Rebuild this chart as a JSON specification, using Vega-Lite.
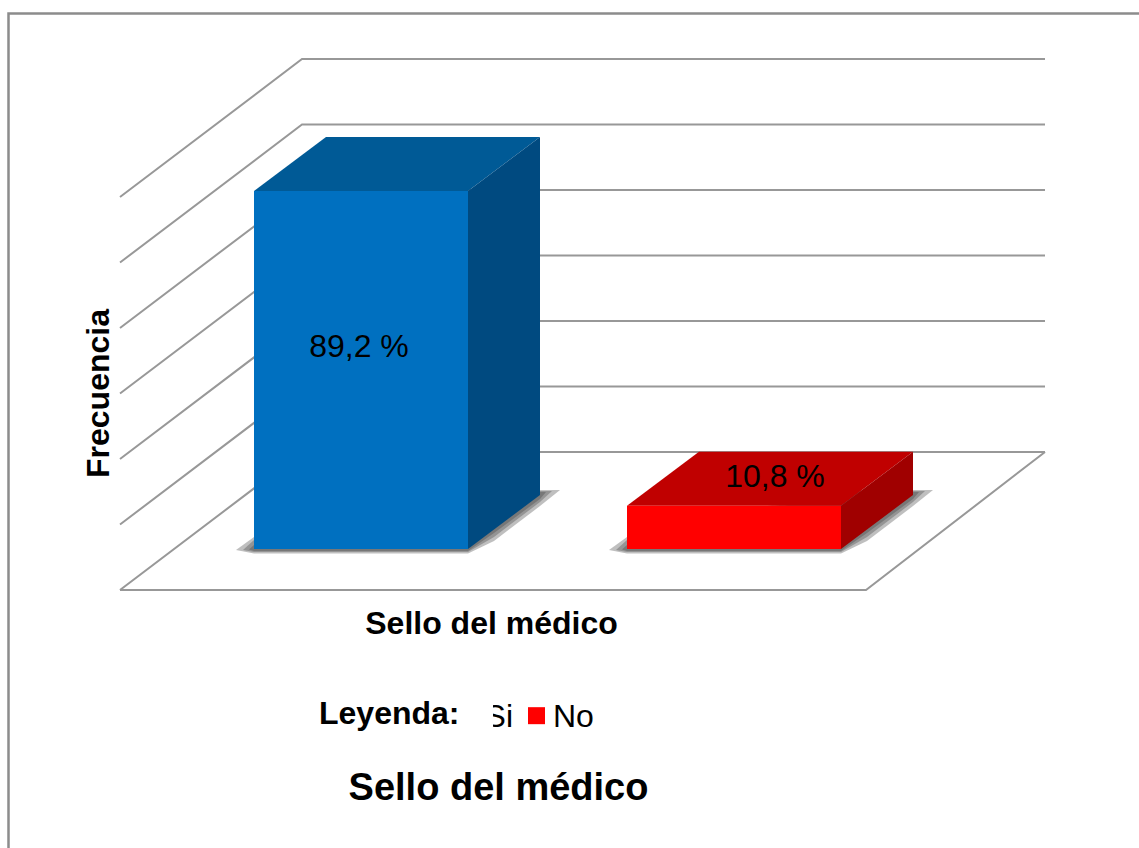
{"$schema":"https://vega.github.io/schema/vega-lite/v6.json","width":1139,"height":848,"padding":0,"autosize":{"type":"none"},"background":"white",
"title":{"text":"Sello del médico","frame":"group","anchor":"middle","orient":"top","offset":0,"dx":-71,"dy":838,"baseline":"alphabetic","font":"Liberation Sans","fontSize":38,"fontWeight":"bold","color":"#000000"},
"config":{"view":{"stroke":null},"text":{"font":"Liberation Sans"}},
"encoding":{
"x":{"field":"x","type":"quantitative","scale":{"domain":[0,1139],"nice":false,"zero":false},"axis":{"title":"Sello del médico","labels":false,"ticks":false,"domain":false,"grid":false,"titleFont":"Liberation Sans","titleFontSize":32,"titleFontWeight":"bold","titleColor":"#000000","titleX":491,"titleY":-215,"titleAlign":"center","titleBaseline":"alphabetic","titleAnchor":null}},
"y":{"field":"y","type":"quantitative","stack":null,"scale":{"domain":[-74.5,136.79],"nice":false,"zero":false},"axis":{"title":"Frecuencia","labels":false,"ticks":false,"domain":false,"grid":false,"titleFont":"Liberation Sans","titleFontSize":32,"titleFontWeight":"bold","titleColor":"#000000","titleX":108,"titleY":393,"titleAngle":270,"titleAlign":"center","titleBaseline":"alphabetic","titleAnchor":null}}},
"layer":[
{"data":{"values":[{"x":8.5,"y":-74.5,"i":0},{"x":8.5,"y":133.4,"i":1},{"x":1139,"y":133.4,"i":2}]},"mark":{"type":"line","color":"#8c8c8c","strokeWidth":2.5},"encoding":{"order":{"field":"i"}}},
{"data":{"values":[
{"k":"suelo","x":120,"y":-10.22},{"k":"suelo","x":866,"y":-10.22},{"k":"suelo","x":1045,"y":24.17},
{"k":"g0","x":120,"y":-10.22},{"k":"g0","x":302,"y":24.17},{"k":"g0","x":1045,"y":24.17},
{"k":"g1","x":120,"y":6.10},{"k":"g1","x":302,"y":40.49},{"k":"g1","x":1045,"y":40.49},
{"k":"g2","x":120,"y":22.42},{"k":"g2","x":302,"y":56.81},{"k":"g2","x":1045,"y":56.81},
{"k":"g3","x":120,"y":38.74},{"k":"g3","x":302,"y":73.13},{"k":"g3","x":1045,"y":73.13},
{"k":"g4","x":120,"y":55.06},{"k":"g4","x":302,"y":89.45},{"k":"g4","x":1045,"y":89.45},
{"k":"g5","x":120,"y":71.38},{"k":"g5","x":302,"y":105.77},{"k":"g5","x":1045,"y":105.77},
{"k":"g6","x":120,"y":87.70},{"k":"g6","x":302,"y":122.09},{"k":"g6","x":1045,"y":122.09}
]},"mark":{"type":"line","color":"#989898","strokeWidth":2},"encoding":{"detail":{"field":"k"}}},
{"data":{"values":[
{"p":"s1a","x":236,"y":-0.25,"y2":-0.25},{"p":"s1a","x":254,"y":2.99,"y2":-1.12},{"p":"s1a","x":468,"y":14.7,"y2":-1.12},{"p":"s1a","x":494,"y":14.7,"y2":1.99},{"p":"s1a","x":540,"y":14.7,"y2":10.71},{"p":"s1a","x":560,"y":14.7,"y2":14.7},
{"p":"s2a","x":243,"y":-0.25,"y2":-0.25},{"p":"s2a","x":254,"y":2.24,"y2":-0.75},{"p":"s2a","x":468,"y":14.45,"y2":-0.75},{"p":"s2a","x":494,"y":14.45,"y2":2.99},{"p":"s2a","x":540,"y":14.45,"y2":11.71},{"p":"s2a","x":552,"y":14.45,"y2":14.45},
{"p":"s3a","x":249,"y":-0.12,"y2":-0.12},{"p":"s3a","x":254,"y":1,"y2":-0.5},{"p":"s3a","x":468,"y":14.2,"y2":-0.5},{"p":"s3a","x":494,"y":14.2,"y2":3.99},{"p":"s3a","x":540,"y":14.2,"y2":12.46},{"p":"s3a","x":546,"y":14.2,"y2":14.2},
{"p":"s1b","x":609,"y":-0.25,"y2":-0.25},{"p":"s1b","x":627,"y":2.99,"y2":-1.12},{"p":"s1b","x":841,"y":14.7,"y2":-1.12},{"p":"s1b","x":867,"y":14.7,"y2":1.99},{"p":"s1b","x":913,"y":14.7,"y2":10.71},{"p":"s1b","x":933,"y":14.7,"y2":14.7},
{"p":"s2b","x":616,"y":-0.25,"y2":-0.25},{"p":"s2b","x":627,"y":2.24,"y2":-0.75},{"p":"s2b","x":841,"y":14.45,"y2":-0.75},{"p":"s2b","x":867,"y":14.45,"y2":2.99},{"p":"s2b","x":913,"y":14.45,"y2":11.71},{"p":"s2b","x":925,"y":14.45,"y2":14.45},
{"p":"s3b","x":622,"y":-0.12,"y2":-0.12},{"p":"s3b","x":627,"y":1,"y2":-0.5},{"p":"s3b","x":841,"y":14.2,"y2":-0.5},{"p":"s3b","x":867,"y":14.2,"y2":3.99},{"p":"s3b","x":913,"y":14.2,"y2":12.46},{"p":"s3b","x":919,"y":14.2,"y2":14.2},
{"p":"topeSi","x":254,"y":89.2,"y2":89.2},{"p":"topeSi","x":326,"y":102.65,"y2":89.2},{"p":"topeSi","x":468,"y":102.65,"y2":89.2},{"p":"topeSi","x":540,"y":102.65,"y2":102.65},
{"p":"ladoSi","x":468,"y":89.2,"y2":0},{"p":"ladoSi","x":540,"y":102.65,"y2":13.45},
{"p":"topeNo","x":627,"y":10.8,"y2":10.8},{"p":"topeNo","x":699,"y":24.25,"y2":10.8},{"p":"topeNo","x":841,"y":24.25,"y2":10.8},{"p":"topeNo","x":913,"y":24.25,"y2":24.25},
{"p":"ladoNo","x":841,"y":10.8,"y2":0},{"p":"ladoNo","x":913,"y":24.25,"y2":13.45}
]},"mark":{"type":"area","line":false,"interpolate":"linear"},"encoding":{
"y2":{"field":"y2"},
"color":{"field":"p","type":"nominal","legend":null,"scale":{"domain":["s1a","s2a","s3a","s1b","s2b","s3b","topeSi","ladoSi","topeNo","ladoNo"],"range":["rgba(60,60,60,0.33)","rgba(60,60,60,0.33)","rgba(60,60,60,0.33)","rgba(60,60,60,0.33)","rgba(60,60,60,0.33)","rgba(60,60,60,0.33)","#005a96","#004a80","#c00000","#a00000"]}}}},
{"data":{"values":[{"Serie":"Si","x":254,"x2":468,"y":89.2,"y2":0},{"Serie":"No","x":627,"x2":841,"y":10.8,"y2":0}]},"mark":{"type":"rect"},"encoding":{
"x2":{"field":"x2"},"y2":{"field":"y2"},
"color":{"field":"Serie","type":"nominal","scale":{"domain":["Si","No"],"range":["#0070c0","#ff0000"]},"legend":null}}},
{"data":{"values":[{"etiqueta":"89,2 %","x":359,"y":47.84},{"etiqueta":"10,8 %","x":775,"y":15.45}]},"mark":{"type":"text","align":"center","baseline":"alphabetic","fontSize":32,"font":"Liberation Sans","color":"#000000"},"encoding":{"text":{"field":"etiqueta"}}},
{"data":{"values":[{"etiqueta":"Si","x":484.6,"y":-44.25},{"etiqueta":"No","x":553,"y":-44.25}]},"mark":{"type":"text","align":"left","baseline":"alphabetic","fontSize":32,"font":"Liberation Sans","color":"#000000"},"encoding":{"text":{"field":"etiqueta"}}},
{"data":{"values":[{"Serie":"Si","x":467.5,"y":-41.53},{"Serie":"No","x":536.5,"y":-41.53}]},"mark":{"type":"point","shape":"square","filled":true,"opacity":1,"size":289},"encoding":{"color":{"field":"Serie","type":"nominal","scale":{"domain":["Si","No"],"range":["#0070c0","#ff0000"]},"legend":null}}},
{"data":{"values":[{"x":458,"x2":493,"y":-37.6,"y2":-45.6}]},"mark":{"type":"rect","color":"white"},"encoding":{"x2":{"field":"x2"},"y2":{"field":"y2"}}},
{"data":{"values":[{"etiqueta":"Leyenda:","x":319,"y":-43.5}]},"mark":{"type":"text","align":"left","baseline":"alphabetic","fontSize":32,"fontWeight":"bold","font":"Liberation Sans","color":"#000000"},"encoding":{"text":{"field":"etiqueta"}}}
],
"resolve":{"scale":{"color":"independent"}}}
